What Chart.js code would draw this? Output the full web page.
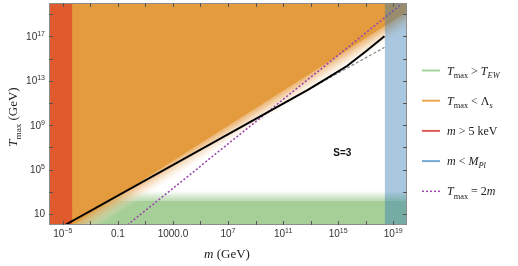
<!DOCTYPE html>
<html>

<head>
    <meta charset='utf-8'>
    <title>Tmax vs m, S=3</title>
    <script src="https://cdn.jsdelivr.net/npm/chart.js@4.4.1/dist/chart.umd.min.js"></script>
    <style>
        body { margin: 0; background: #fff; }
    </style>
</head>

<body>
    <canvas id="myChart" width="518" height="266"></canvas>
    <script>
        // axis ranges (GeV)
        const mRange = [1e-6, 1e20];
        const tRange = [1, 1e20];

        // ticks
        const xMajor = [1e-5, 0.1, 1000, 1e7, 1e11, 1e15, 1e19];
        const xMajorLabels = ['10^−5', '0.1', '1000.0', '10^7', '10^11', '10^15', '10^19'];
        const xMinor = [1e-3, 10, 1e5, 1e9, 1e13, 1e17];
        const yMajor = [10, 1e5, 1e9, 1e13, 1e17];
        const yMajorLabels = ['10', '10^5', '10^9', '10^13', '10^17'];
        const yMinor = [1e3, 1e7, 1e11, 1e15, 1e19];

        // black curve
        const boundM = [1.45e-5, 6.3e12, 1e14, 4.4e15, 1e17, 2.3e18];
        const boundT = [1, 1.5e12, 1.2e13, 2.1e14, 4.2e15, 1e17];
        // grey dashed continuation
        const extrapM = [6.3e12, 2.3e18];
        const extrapT = [1.5e12, 1.0e16];
        // Tmax = 2m
        const twoM_M = [0.5, 5e19];
        const twoM_T = [1, 1e20];
        // Tmax < Lambda_s edge
        const lambdaM = [1e-6, 1e20];
        const lambdaT = [0.043, 1.5e19];
        // bands
        const tEW = 160;
        const mKeV = 5e-5;
        const mPl = 2.4e18;

        const zip = (xs, ys) => xs.map((v, i) => ({ x: v, y: ys[i] }));

        const fadePlugin = {
            id: 'fade',
            beforeDatasetDraw(chart, args) {
                const ds = chart.data.datasets[args.index];
                if (!ds.fade) return;
                const pts = args.meta.data;
                const a = pts[0], b = pts[pts.length - 1];
                let dx = b.x - a.x, dy = b.y - a.y;
                const len = Math.hypot(dx, dy);
                dx /= len; dy /= len;
                const s = ds.fade.side;
                const nx = -dy * s, ny = dx * s;
                const w = ds.fade.width;
                const ext = 2000;
                const x0 = a.x - dx * ext, y0 = a.y - dy * ext;
                const x1 = b.x + dx * ext, y1 = b.y + dy * ext;
                const ctx = chart.ctx, area = chart.chartArea;
                const g = ctx.createLinearGradient(a.x, a.y, a.x + nx * w, a.y + ny * w);
                ds.fade.stops.forEach(st => g.addColorStop(st[0], st[1]));
                ctx.save();
                ctx.beginPath();
                ctx.rect(area.left, area.top, area.right - area.left, area.bottom - area.top);
                ctx.clip();
                ctx.beginPath();
                ctx.moveTo(x0, y0);
                ctx.lineTo(x1, y1);
                ctx.lineTo(x1 + nx * w, y1 + ny * w);
                ctx.lineTo(x0 + nx * w, y0 + ny * w);
                ctx.closePath();
                ctx.fillStyle = g;
                ctx.fill();
                ctx.restore();
            }
        };

        function drawRich(ctx, parts, x, y, size, measureOnly) {
            let cx = x;
            parts.forEach(([t, st]) => {
                const sub = st === 'sub' || st === 'isub';
                const it = st === 'i' || st === 'isub';
                const fs = sub ? size * 0.7 : size;
                ctx.font = (it ? 'italic ' : '') + fs + 'px "Liberation Serif"';
                if (!measureOnly) ctx.fillText(t, cx, y + (sub ? size * 0.28 : 0));
                cx += ctx.measureText(t).width;
            });
            return cx - x;
        }

        function drawTickLabel(ctx, label, x, y, align) {
            const [base, exp] = label.split('^');
            ctx.font = '10px "Liberation Sans"';
            const wb = ctx.measureText(base).width;
            ctx.font = '7px "Liberation Sans"';
            const we = exp ? ctx.measureText(exp).width : 0;
            const sx = align === 'center' ? x - (wb + we) / 2 : x - wb - we;
            ctx.font = '10px "Liberation Sans"';
            ctx.fillText(base, sx, y);
            if (exp) {
                ctx.font = '7px "Liberation Sans"';
                ctx.fillText(exp, sx + wb, y - 4);
            }
        }

        const legendItems = [
            { parts: [['T', 'i'], ['max', 'sub'], [' > ', 'r'], ['T', 'i'], ['EW', 'isub']], color: '#a3d39a', dash: [] },
            { parts: [['T', 'i'], ['max', 'sub'], [' < Λ', 'r'], ['s', 'isub']], color: '#eba552', dash: [] },
            { parts: [['m', 'i'], [' > 5 keV', 'r']], color: '#e05a5a', dash: [] },
            { parts: [['m', 'i'], [' < ', 'r'], ['M', 'i'], ['Pl', 'isub']], color: '#78a8d0', dash: [] },
            { parts: [['T', 'i'], ['max', 'sub'], [' = 2', 'r'], ['m', 'i']], color: '#9a48ad', dash: [2, 2] }
        ];

        const framePlugin = {
            id: 'frame',
            afterDraw(chart) {
                const { ctx, chartArea: a, scales: { x, y } } = chart;
                ctx.save();
                ctx.strokeStyle = '#8c8c8c';
                ctx.lineWidth = 1;
                ctx.strokeRect(a.left + 0.5, a.top + 0.5, a.right - a.left - 1, a.bottom - a.top - 1);

                ctx.strokeStyle = '#555';
                ctx.beginPath();
                xMajor.concat(xMinor).forEach(v => {
                    const px = Math.round(x.getPixelForValue(v)) + 0.5;
                    ctx.moveTo(px, a.bottom); ctx.lineTo(px, a.bottom - 4);
                    ctx.moveTo(px, a.top); ctx.lineTo(px, a.top + 4);
                });
                yMajor.concat(yMinor).forEach(v => {
                    const py = Math.round(y.getPixelForValue(v)) + 0.5;
                    ctx.moveTo(a.left, py); ctx.lineTo(a.left + 4, py);
                    ctx.moveTo(a.right, py); ctx.lineTo(a.right - 4, py);
                });
                ctx.stroke();

                ctx.fillStyle = '#333';
                ctx.textAlign = 'left';
                ctx.textBaseline = 'alphabetic';
                xMajor.forEach((v, i) => drawTickLabel(ctx, xMajorLabels[i], x.getPixelForValue(v), a.bottom + 12, 'center'));
                yMajor.forEach((v, i) => drawTickLabel(ctx, yMajorLabels[i], a.left - 4, y.getPixelForValue(v) + 3.5, 'right'));

                // axis titles
                ctx.fillStyle = '#222';
                const xt = [['m', 'i'], [' (GeV)', 'r']];
                const wx = drawRich(ctx, xt, 0, 0, 13, true);
                drawRich(ctx, xt, 227 - wx / 2, 258, 13);
                const yt = [['T', 'i'], ['max', 'sub'], [' (GeV)', 'r']];
                const wy = drawRich(ctx, yt, 0, 0, 13, true);
                ctx.save();
                ctx.translate(17, 117);
                ctx.rotate(-Math.PI / 2);
                drawRich(ctx, yt, -wy / 2, 0, 13);
                ctx.restore();

                // annotation
                ctx.font = 'bold 10px "Liberation Sans"';
                ctx.textAlign = 'center';
                ctx.fillStyle = '#111';
                ctx.fillText('S=3', x.getPixelForValue(2e15), y.getPixelForValue(1.5e6));
                ctx.textAlign = 'left';

                // legend
                legendItems.forEach((it, i) => {
                    const ly = 70.5 + i * 30.2;
                    ctx.strokeStyle = it.color;
                    ctx.lineWidth = it.dash.length ? 1.5 : 2;
                    ctx.setLineDash(it.dash);
                    ctx.beginPath();
                    ctx.moveTo(422, ly); ctx.lineTo(440, ly);
                    ctx.stroke();
                    ctx.setLineDash([]);
                    ctx.fillStyle = '#222';
                    drawRich(ctx, it.parts, 447, ly + 4, 12);
                });
                ctx.restore();
            }
        };

        const ctx = document.getElementById('myChart').getContext('2d');
        const myChart = new Chart(ctx, {
            type: 'line',
            data: {
                datasets: [{
                        label: 'bound',
                        data: zip(boundM, boundT),
                        borderColor: '#000',
                        borderWidth: 2,
                        fill: false,
                        order: 0
                    },
                    {
                        label: 'extrapolation',
                        data: zip(extrapM, extrapT),
                        borderColor: '#8e8e8e',
                        borderWidth: 1.3,
                        borderDash: [3, 2],
                        fill: false,
                        order: 1
                    },
                    {
                        label: 'Tmax = 2m',
                        data: zip(twoM_M, twoM_T),
                        borderColor: '#9a48ad',
                        borderWidth: 1.6,
                        borderDash: [2, 2],
                        fill: false,
                        order: 4
                    },
                    {
                        label: 'm < MPl',
                        data: [{ x: mPl, y: tRange[1] }, { x: mRange[1], y: tRange[1] }],
                        borderColor: 'transparent',
                        backgroundColor: 'rgba(45,122,180,0.41)',
                        fill: 'start',
                        order: 2
                    },
                    {
                        label: 'm > 5 keV',
                        data: [{ x: mRange[0], y: tRange[1] }, { x: mKeV, y: tRange[1] }],
                        borderColor: 'transparent',
                        backgroundColor: 'rgb(223,91,46)',
                        fill: 'start',
                        order: 3
                    },
                    {
                        label: 'Tmax < Lambda_s',
                        data: zip(lambdaM, lambdaT),
                        borderColor: 'transparent',
                        backgroundColor: 'rgb(228,155,61)',
                        fill: 'end',
                        order: 5,
                        fade: {
                            side: 1,
                            width: 15,
                            stops: [[0, 'rgba(232,165,85,0.85)'], [0.35, 'rgba(238,185,125,0.55)'], [0.7, 'rgba(245,212,178,0.3)'], [1, 'rgba(250,235,220,0)']]
                        }
                    },
                    {
                        label: 'Tmax > TEW',
                        data: [{ x: mRange[0], y: tEW }, { x: mRange[1], y: tEW }],
                        borderColor: 'transparent',
                        backgroundColor: 'rgb(166,207,152)',
                        fill: 'start',
                        order: 6,
                        fade: {
                            side: -1,
                            width: 10,
                            stops: [[0, 'rgba(166,207,152,0.75)'], [0.5, 'rgba(180,215,168,0.45)'], [1, 'rgba(210,232,200,0)']]
                        }
                    }
                ]
            },
            options: {
                responsive: false,
                animation: false,
                layout: { padding: { left: 49, top: 3, right: 111, bottom: 41 } },
                elements: { point: { radius: 0 }, line: { tension: 0 } },
                scales: {
                    x: { type: 'logarithmic', min: mRange[0], max: mRange[1], display: false },
                    y: { type: 'logarithmic', min: tRange[0], max: tRange[1], display: false }
                },
                plugins: { legend: { display: false }, tooltip: { enabled: false } }
            },
            plugins: [fadePlugin, framePlugin]
        });
    </script>
</body>

</html>
